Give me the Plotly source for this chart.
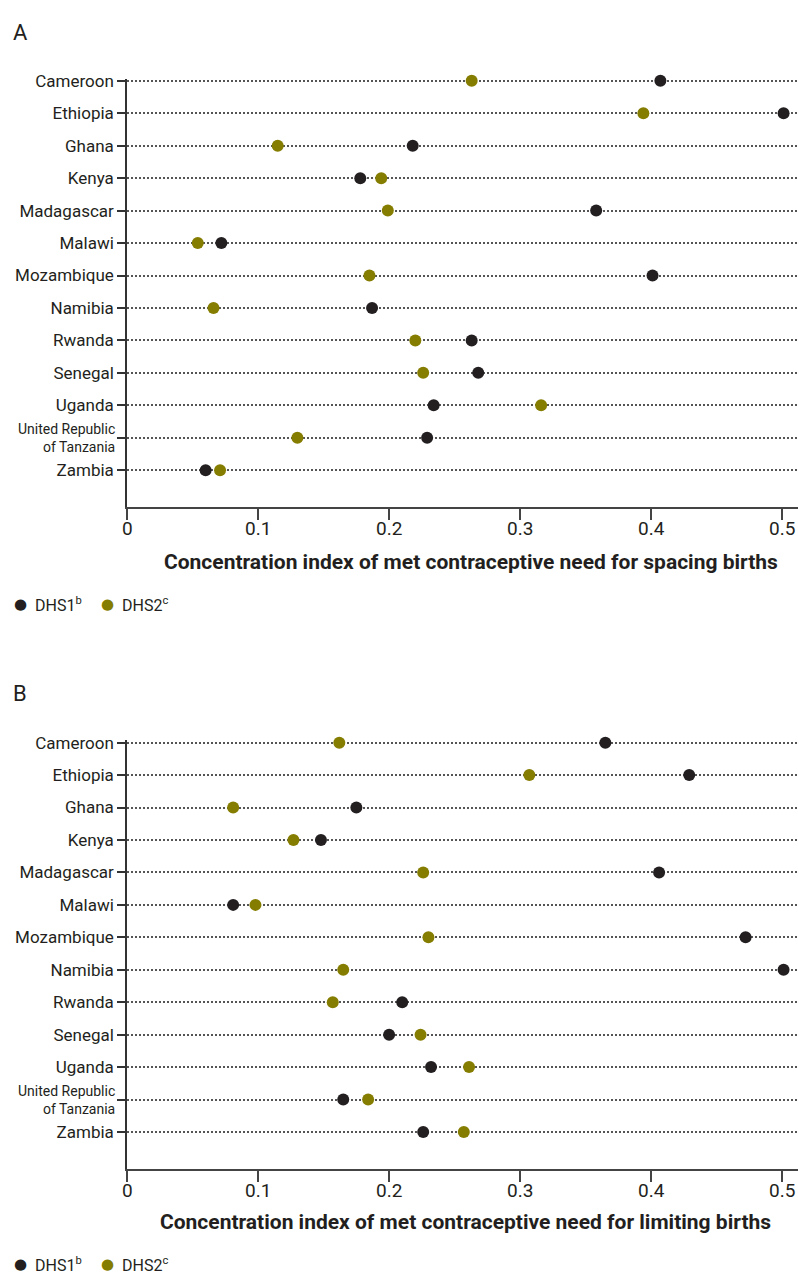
import plotly.graph_objects as go

countries = ["Cameroon", "Ethiopia", "Ghana", "Kenya", "Madagascar", "Malawi",
             "Mozambique", "Namibia", "Rwanda", "Senegal", "Uganda",
             "United Republic of Tanzania", "Zambia"]
tick_labels = ["Cameroon", "Ethiopia", "Ghana", "Kenya", "Madagascar", "Malawi",
               "Mozambique", "Namibia", "Rwanda", "Senegal", "Uganda",
               "", "Zambia"]
tanzania_label = "United Republic<br>of Tanzania"

# Panel A: spacing births
spacing_dhs1 = [0.407, 0.501, 0.218, 0.178, 0.358, 0.072, 0.401, 0.187, 0.263, 0.268, 0.234, 0.229, 0.060]
spacing_dhs2 = [0.263, 0.394, 0.115, 0.194, 0.199, 0.054, 0.185, 0.066, 0.220, 0.226, 0.316, 0.130, 0.071]
# Panel B: limiting births
limiting_dhs1 = [0.365, 0.429, 0.175, 0.148, 0.406, 0.081, 0.472, 0.501, 0.210, 0.200, 0.232, 0.165, 0.226]
limiting_dhs2 = [0.162, 0.307, 0.081, 0.127, 0.226, 0.098, 0.230, 0.165, 0.157, 0.224, 0.261, 0.184, 0.257]

x_ticks = [0, 0.1, 0.2, 0.3, 0.4, 0.5]
x_tick_text = ["0", "0.1", "0.2", "0.3", "0.4", "0.5"]

title_a = "Concentration index of met contraceptive need for spacing births"
title_b = "Concentration index of met contraceptive need for limiting births"
legend_names = ["DHS1<sup>b</sup>", "DHS2<sup>c</sup>"]

C1 = "#231f20"
C2 = "#857d00"
FONT = "Roboto, sans-serif"
TXT = "#231f20"

fig = go.Figure()
ypos = list(range(len(countries)))

for xa, ya, d1, d2 in [("x", "y", spacing_dhs1, spacing_dhs2),
                       ("x2", "y2", limiting_dhs1, limiting_dhs2)]:
    fig.add_trace(go.Scatter(x=d2, y=ypos, mode="markers", xaxis=xa, yaxis=ya,
                             marker=dict(size=12, color=C2), cliponaxis=False,
                             name="DHS2", showlegend=False))
    fig.add_trace(go.Scatter(x=d1, y=ypos, mode="markers", xaxis=xa, yaxis=ya,
                             marker=dict(size=12, color=C1), cliponaxis=False,
                             name="DHS1", showlegend=False))

xaxis_common = dict(range=[0, 0.512], tickvals=x_ticks, ticktext=x_tick_text,
                    showgrid=False, zeroline=False, showline=True, linecolor="#444",
                    linewidth=2, ticks="outside", ticklen=11, tickcolor="#444",
                    tickwidth=1.5, showticklabels=False)
yaxis_common = dict(range=[13.13, -0.07], tickvals=ypos, ticktext=tick_labels,
                    showgrid=True, gridcolor="#555", griddash="2px,2px", gridwidth=1.5,
                    zeroline=False, showline=True, linecolor="#333", linewidth=1.5,
                    ticks="outside", ticklen=8, tickcolor="#333", tickwidth=1.5,
                    tickfont=dict(family=FONT, size=17, color=TXT))

H = 1275.0
fig.update_layout(
    width=798, height=1275,
    margin=dict(l=127, r=0, t=0, b=0),
    plot_bgcolor="white", paper_bgcolor="white",
    xaxis=dict(domain=[0, 1], anchor="y", **xaxis_common),
    yaxis=dict(domain=[1 - 502 / H, 1 - 71 / H], anchor="x", **yaxis_common),
    xaxis2=dict(domain=[0, 1], anchor="y2", **xaxis_common),
    yaxis2=dict(domain=[1 - 1168 / H, 1 - 737 / H], anchor="x2", **yaxis_common),
)

def px_x(p):
    return (p - 127) / 671.0

def px_y(p):
    return 1 - p / H

ann = []
ann.append(dict(text="A", x=px_x(11), y=px_y(25), xanchor="left", yanchor="middle",
                xref="paper", yref="paper", font=dict(family=FONT, size=22, color=TXT)))
ann.append(dict(text="B", x=px_x(11), y=px_y(690), xanchor="left", yanchor="middle",
                xref="paper", yref="paper", font=dict(family=FONT, size=22, color=TXT)))
ann.append(dict(text="<b>" + title_a + "</b>", x=px_x(471), y=px_y(558), xanchor="center",
                yanchor="middle", xref="paper", yref="paper",
                font=dict(family=FONT, size=21, color=TXT)))
ann.append(dict(text="<b>" + title_b + "</b>", x=px_x(465), y=px_y(1222), xanchor="center",
                yanchor="middle", xref="paper", yref="paper",
                font=dict(family=FONT, size=21, color=TXT)))
# legends
for yy in (600, 1264):
    for (dx, tx, col, name) in ((20, 33, C1, legend_names[0]), (107, 120, C2, legend_names[1])):
        ann.append(dict(text="●", x=px_x(dx), y=px_y(yy), xanchor="center", yanchor="middle",
                        xref="paper", yref="paper", font=dict(family="DejaVu Sans", size=15, color=col)))
        ann.append(dict(text=name, x=px_x(tx), y=px_y(yy), xanchor="left", yanchor="middle",
                        xref="paper", yref="paper", font=dict(family=FONT, size=16, color=TXT)))
# x tick labels and the two-line Tanzania label
for xr, yc, yr in (("x", 524, "y"), ("x2", 1190, "y2")):
    for v, t in zip(x_ticks, x_tick_text):
        ann.append(dict(text=t, x=v, y=px_y(yc), xref=xr, yref="paper", xanchor="center",
                        yanchor="middle", font=dict(family=FONT, size=19, color=TXT)))
    ann.append(dict(text=tanzania_label, x=px_x(117), y=ypos[11], xref="paper", yref=yr,
                    xanchor="right", yanchor="middle", align="right",
                    font=dict(family=FONT, size=14, color=TXT)))
for a in ann:
    a.update(showarrow=False)
fig.update_layout(annotations=ann)

fig.write_html("out.html", post_script="document.body.style.margin='0';",
               config={"displayModeBar": False})
